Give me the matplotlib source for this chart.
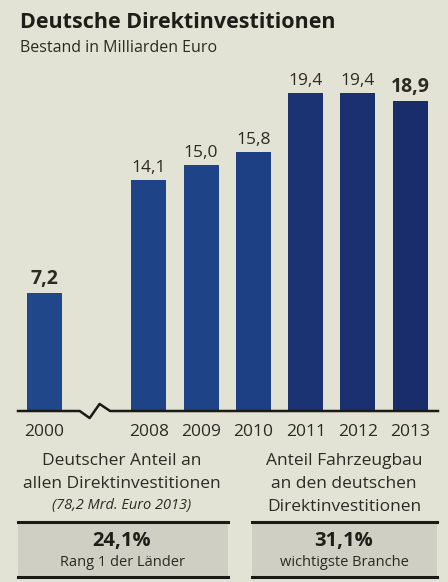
import matplotlib
matplotlib.use("Agg")
import matplotlib.pyplot as plt
from matplotlib.patches import Rectangle
from matplotlib.lines import Line2D

years = ["2000", "2008", "2009", "2010", "2011", "2012", "2013"]
values = [7.2, 14.1, 15.0, 15.8, 19.4, 19.4, 18.9]
value_labels = ["7,2", "14,1", "15,0", "15,8", "19,4", "19,4", "18,9"]
bold_labels = [True, False, False, False, False, False, True]
positions = [0, 2, 3, 4, 5, 6, 7]

title = "Deutsche Direktinvestitionen"
subtitle = "Bestand in Milliarden Euro"
left_head = ["Deutscher Anteil an", "allen Direktinvestitionen"]
left_note = "(78,2 Mrd. Euro 2013)"
left_value = "24,1%"
left_sub = "Rang 1 der Länder"
right_head = ["Anteil Fahrzeugbau", "an den deutschen", "Direktinvestitionen"]
right_value = "31,1%"
right_sub = "wichtigste Branche"

FONT = ["Liberation Sans Narrow", "Open Sans", "DejaVu Sans"]
plt.rcParams["font.family"] = FONT

BG = "#e3e3d5"
BOX = "#cfcfc4"
TXT = "#2b2b24"
bar_colors = ["#1f4789", "#1e4386", "#1e4386", "#1d4084", "#1b3273", "#1b3070", "#1a2d6b"]

W, H = 448, 582
fig = plt.figure(figsize=(W / 100, H / 100), dpi=100, facecolor=BG)

def px(x0, y0, x1, y1):
    return [x0 / W, 1 - y1 / H, (x1 - x0) / W, (y1 - y0) / H]

# chart axes: baseline at y=411 px, 16.4 px per unit
SCALE = 16.4
ax = fig.add_axes(px(18, 70, 438, 411))
ax.set_facecolor("none")
ax.set_xlim(-0.5, 7.53)
ax.set_ylim(0, 341 / SCALE)
for s in ax.spines.values():
    s.set_visible(False)
ax.set_xticks(positions)
ax.set_xticklabels(years)
ax.tick_params(axis="x", length=0, pad=9, labelsize=12.5, labelcolor=TXT)
ax.set_yticks([])

ax.bar(positions, values, width=0.67, color=bar_colors, zorder=2)
for p, v, lab, b in zip(positions, values, value_labels, bold_labels):
    ax.annotate(lab, (p, v), xytext=(0, 3), textcoords="offset points",
                ha="center", va="bottom", color=TXT,
                fontsize=14 if b else 12.5,
                fontweight="bold" if b else "normal")

# baseline with break
ax.add_line(Line2D([-0.5, 0.68, 0.87, 1.06, 1.26, 7.53], [0, 0, -0.43, 0.43, 0, 0],
                   color="#1a1a16", lw=1.8, clip_on=False, zorder=3))

# overlay axes for text in pixel coordinates
ov = fig.add_axes([0, 0, 1, 1])
ov.set_xlim(0, W)
ov.set_ylim(H, 0)
ov.axis("off")
ov.patch.set_visible(False)

ov.text(20, 22, title, fontsize=15.5, fontweight="bold", color="#1e1e18", va="center", ha="left")
ov.text(20, 48, subtitle, fontsize=11.5, color=TXT, va="center", ha="left")

# bottom blocks
lc, rc = 122, 344
for i, t in enumerate(left_head):
    ov.text(lc, 461 + i * 23, t, fontsize=12.5, color=TXT, ha="center", va="center")
ov.text(lc, 506, left_note, fontsize=10.5, style="italic", color=TXT, ha="center", va="center")
for i, t in enumerate(right_head):
    ov.text(rc, 461 + i * 23, t, fontsize=12.5, color=TXT, ha="center", va="center")

for x0, x1, c, val, sub in [(18, 228, lc, left_value, left_sub), (252, 437, rc, right_value, right_sub)]:
    ov.add_patch(Rectangle((x0, 522), x1 - x0, 55, facecolor=BOX, edgecolor="none"))
    ov.add_line(Line2D([x0, x1], [522, 522], color="#1a1a16", lw=2.2))
    ov.add_line(Line2D([x0, x1], [577, 577], color="#1a1a16", lw=2.2))
    ov.text(c, 541, val, fontsize=14.5, fontweight="bold", color="#1e1e18", ha="center", va="center")
    ov.text(c, 562, sub, fontsize=10.5, color=TXT, ha="center", va="center")

fig.savefig("out.png", dpi=100, facecolor=BG)
